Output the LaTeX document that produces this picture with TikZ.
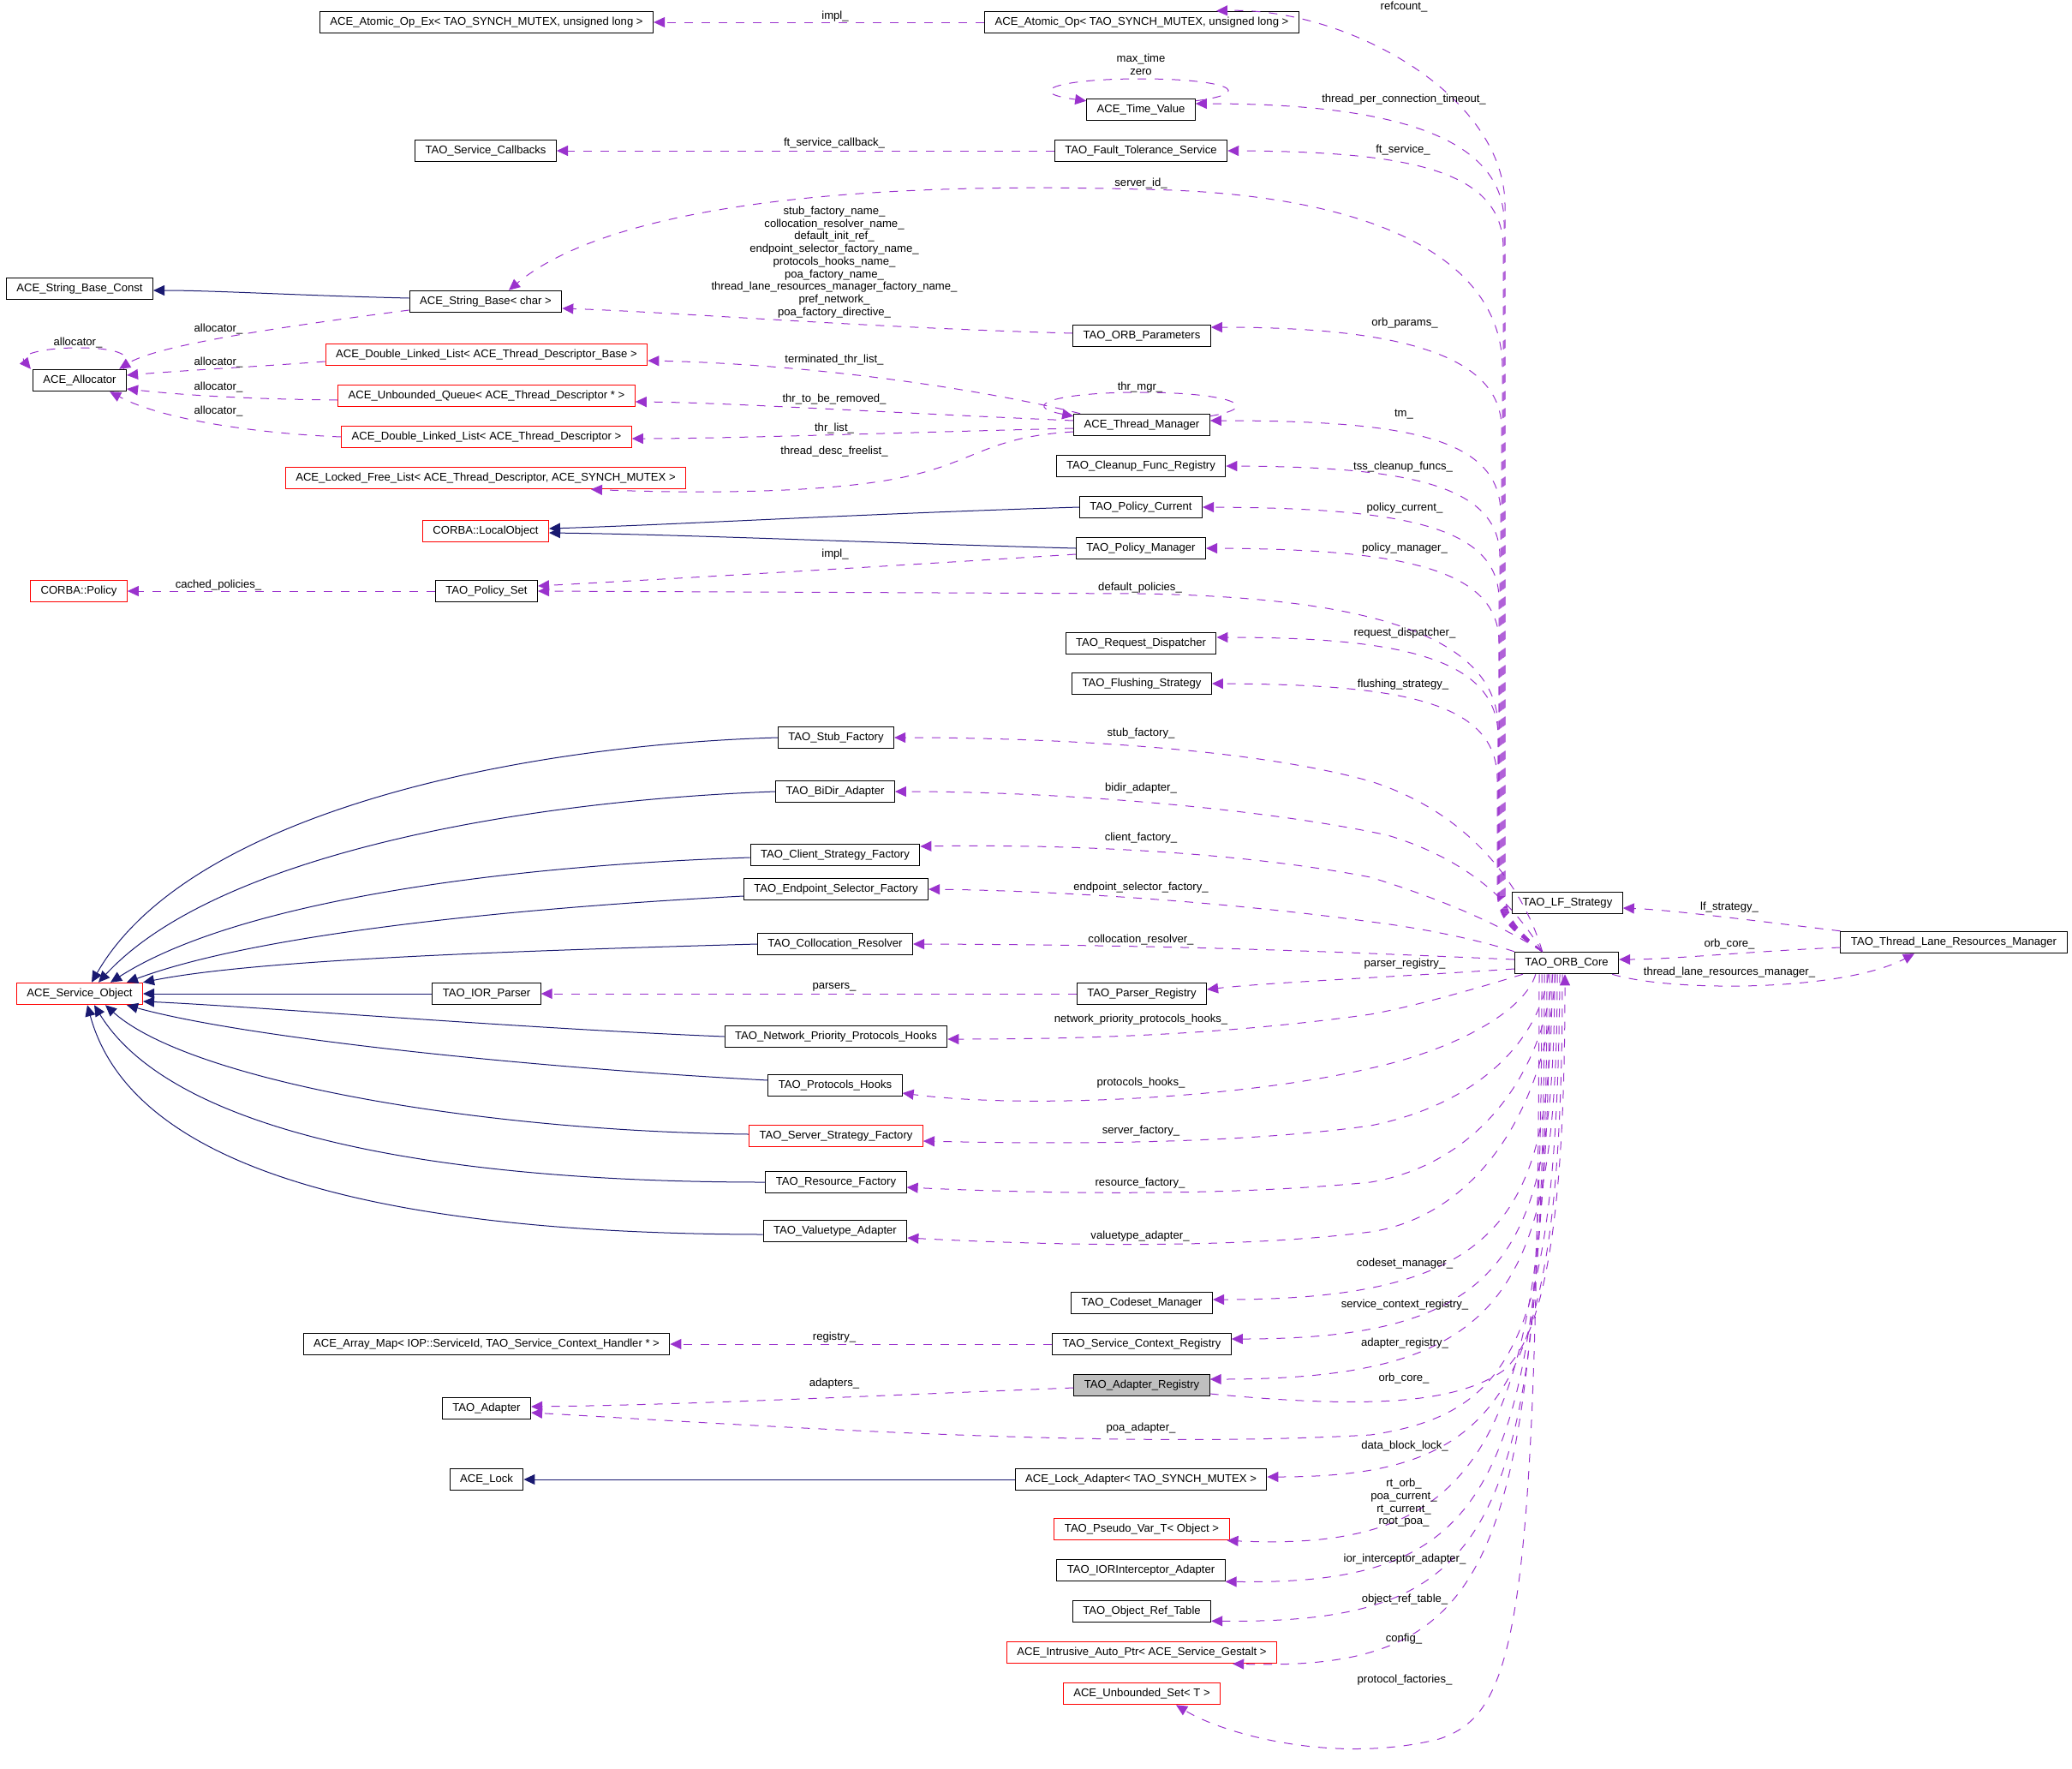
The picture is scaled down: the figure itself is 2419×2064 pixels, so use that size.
\documentclass[tikz,border=0pt]{standalone}
\usepackage{fontspec}
\usepackage{tikz}
\usetikzlibrary{arrows.meta}
\newfontfamily\doxfont{Liberation Sans}
\definecolor{memberpurple}{HTML}{9A32CD}
\definecolor{basenavy}{HTML}{191970}
\definecolor{focusgray}{HTML}{BFBFBF}

\begin{document}
\begin{tikzpicture}[x=1pt,y=-1pt,
  cls/.style={draw=black,line width=1pt,fill=white,minimum height=25.5pt,inner xsep=12pt,inner ysep=1pt,font=\doxfont\fontsize{13.1}{14.7}\selectfont},
  redcls/.style={cls,draw=red},
  lbl/.style={inner sep=0pt,align=center,font=\doxfont\fontsize{13.1}{14.7}\selectfont},
  member/.style={draw=memberpurple,line width=1pt,dash pattern=on 10pt off 10pt,-{Triangle[length=13pt,width=12pt]}},
  inherit/.style={draw=basenavy,line width=1pt,-{Triangle[length=13pt,width=12pt]}}]
\useasboundingbox (0,0) rectangle (2419,2064);

% classes, far left
\node[cls] (strconst) at (93,337) {ACE\_String\_Base\_Const};
\node[cls] (allocator) at (93,444) {ACE\_Allocator};
\node[redcls] (corbapolicy) at (92,690) {CORBA::Policy};
\node[redcls] (serviceobj) at (93,1160) {ACE\_Service\_Object};

% classes, left column
\node[cls] (atomicex) at (568,26) {ACE\_Atomic\_Op\_Ex< TAO\_SYNCH\_MUTEX, unsigned long >};
\node[cls] (callbacks) at (567,176) {TAO\_Service\_Callbacks};
\node[cls] (strbase) at (567,352) {ACE\_String\_Base< char >};
\node[redcls] (dllbase) at (568,414) {ACE\_Double\_Linked\_List< ACE\_Thread\_Descriptor\_Base >};
\node[redcls] (uqueue) at (568,462) {ACE\_Unbounded\_Queue< ACE\_Thread\_Descriptor * >};
\node[redcls] (dlldesc) at (568,510) {ACE\_Double\_Linked\_List< ACE\_Thread\_Descriptor >};
\node[redcls] (freelist) at (567,558) {ACE\_Locked\_Free\_List< ACE\_Thread\_Descriptor, ACE\_SYNCH\_MUTEX >};
\node[redcls] (localobj) at (567,620) {CORBA::LocalObject};
\node[cls] (policyset) at (568,690) {TAO\_Policy\_Set};
\node[cls] (iorparser) at (568,1160) {TAO\_IOR\_Parser};
\node[cls] (arraymap) at (568,1569) {ACE\_Array\_Map< IOP::ServiceId, TAO\_Service\_Context\_Handler * >};
\node[cls] (adapter) at (568,1644) {TAO\_Adapter};
\node[cls] (acelock) at (568,1727) {ACE\_Lock};

% classes, middle column
\node[cls] (stubf) at (976,861) {TAO\_Stub\_Factory};
\node[cls] (bidir) at (975,924) {TAO\_BiDir\_Adapter};
\node[cls] (clientf) at (975,998) {TAO\_Client\_Strategy\_Factory};
\node[cls] (endpointf) at (976,1038) {TAO\_Endpoint\_Selector\_Factory};
\node[cls] (colloc) at (975,1102) {TAO\_Collocation\_Resolver};
\node[cls] (npphooks) at (976,1210) {TAO\_Network\_Priority\_Protocols\_Hooks};
\node[cls] (protohooks) at (975,1267) {TAO\_Protocols\_Hooks};
\node[redcls] (serverf) at (976,1326) {TAO\_Server\_Strategy\_Factory};
\node[cls] (resourcef) at (976,1380) {TAO\_Resource\_Factory};
\node[cls] (valuetype) at (975,1437) {TAO\_Valuetype\_Adapter};

% classes, right column
\node[cls] (atomicop) at (1333,26) {ACE\_Atomic\_Op< TAO\_SYNCH\_MUTEX, unsigned long >};
\node[cls] (timevalue) at (1332,128) {ACE\_Time\_Value};
\node[cls] (ftservice) at (1332,176) {TAO\_Fault\_Tolerance\_Service};
\node[cls] (orbparams) at (1333,392) {TAO\_ORB\_Parameters};
\node[cls] (threadmgr) at (1333,496) {ACE\_Thread\_Manager};
\node[cls] (cleanup) at (1332,544) {TAO\_Cleanup\_Func\_Registry};
\node[cls] (policycur) at (1332,592) {TAO\_Policy\_Current};
\node[cls] (policymgr) at (1332,640) {TAO\_Policy\_Manager};
\node[cls] (reqdisp) at (1332,751) {TAO\_Request\_Dispatcher};
\node[cls] (flushing) at (1333,798) {TAO\_Flushing\_Strategy};
\node[cls] (parserreg) at (1333,1160) {TAO\_Parser\_Registry};
\node[cls] (codeset) at (1333,1521) {TAO\_Codeset\_Manager};
\node[cls] (svcctx) at (1333,1569) {TAO\_Service\_Context\_Registry};
\node[cls,fill=focusgray] (adapterreg) at (1333,1617) {TAO\_Adapter\_Registry};
\node[cls] (lockadapter) at (1332,1727) {ACE\_Lock\_Adapter< TAO\_SYNCH\_MUTEX >};
\node[redcls] (pseudovar) at (1333,1785) {TAO\_Pseudo\_Var\_T< Object >};
\node[cls] (iorinterceptor) at (1332,1833) {TAO\_IORInterceptor\_Adapter};
\node[cls] (objreftable) at (1333,1881) {TAO\_Object\_Ref\_Table};
\node[redcls] (autoptr) at (1333,1929) {ACE\_Intrusive\_Auto\_Ptr< ACE\_Service\_Gestalt >};
\node[redcls] (unboundedset) at (1333,1977) {ACE\_Unbounded\_Set< T >};

% classes, far right
\node[cls] (lfstrategy) at (1830,1054) {TAO\_LF\_Strategy};
\node[cls] (core) at (1829,1124) {TAO\_ORB\_Core};
\node[cls] (tlrm) at (2281,1100) {TAO\_Thread\_Lane\_Resources\_Manager};

% inheritance
\draw[inherit] ([yshift=4pt]strbase.west) .. controls (350,345) and (250,339) .. ([yshift=-2pt]strconst.east);
\draw[inherit] (policycur.west) .. controls (1000,600) and (800,612) .. ([yshift=3pt]localobj.east);
\draw[inherit] (policymgr.west) .. controls (1000,633) and (800,624) .. ([yshift=-2pt]localobj.east);
\draw[inherit] (stubf.west) .. controls (600,870) and (220,950) .. ([xshift=14pt]serviceobj.north);
\draw[inherit] (bidir.west) .. controls (600,935) and (250,1000) .. ([xshift=22pt]serviceobj.north);
\draw[inherit] ([yshift=-3pt]clientf.west) .. controls (600,1010) and (280,1050) .. ([xshift=36pt]serviceobj.north);
\draw[inherit] ([yshift=-8pt]endpointf.west) .. controls (600,1060) and (300,1090) .. ([xshift=55pt]serviceobj.north);
\draw[inherit] (colloc.west) .. controls (600,1110) and (300,1120) .. (serviceobj.north east);
\draw[inherit] (iorparser.west) -- (serviceobj.east);
\draw[inherit] (npphooks.west) .. controls (600,1200) and (300,1175) .. ([yshift=-9pt]serviceobj.east);
\draw[inherit] ([yshift=6pt]protohooks.west) .. controls (600,1245) and (280,1210) .. ([xshift=55pt]serviceobj.south);
\draw[inherit] ([yshift=2pt]serverf.west) .. controls (550,1320) and (220,1260) .. ([xshift=30pt]serviceobj.south);
\draw[inherit] (resourcef.west) .. controls (500,1380) and (200,1320) .. ([xshift=17pt]serviceobj.south);
\draw[inherit] ([yshift=-4pt]valuetype.west) .. controls (400,1440) and (150,1350) .. ([xshift=9pt]serviceobj.south);
\draw[inherit] (lockadapter.west) -- (acelock.east);

% members, left part
\draw[member] (atomicop.west) -- (atomicex.east);
\draw[member] (ftservice.west) -- (callbacks.east);
\draw[member] ([yshift=-3pt]timevalue.north east) .. controls (1470,108) and (1430,92) .. (1332,92) .. controls (1230,92) and (1195,108) .. ([yshift=-3pt]timevalue.north west);
\draw[member] ([yshift=3pt]orbparams.west) .. controls (1000,382) and (800,365) .. ([yshift=-8pt]strbase.east);
\draw[member] ([yshift=-10pt]strbase.west) .. controls (300,385) and (180,405) .. ([xshift=-9pt]allocator.north east);
\draw[member] ([xshift=-4pt]allocator.north east) .. controls (160,412) and (130,406) .. (91,406) .. controls (50,406) and (22,414) .. ([xshift=-2pt]allocator.north west);
\draw[member] ([yshift=-8pt]dllbase.west) .. controls (300,428) and (220,432) .. ([yshift=6pt]allocator.east);
\draw[member] ([yshift=-5pt]uqueue.west) .. controls (300,466) and (220,462) .. ([yshift=-10pt]allocator.east);
\draw[member] (dlldesc.west) .. controls (300,506) and (190,490) .. ([xshift=-20pt]allocator.south east);
\draw[member] ([xshift=8pt]threadmgr.north west) .. controls (1150,455) and (950,425) .. ([yshift=-7pt]dllbase.east);
\draw[member] ([yshift=5pt]threadmgr.west) .. controls (1000,480) and (850,470) .. ([yshift=-7pt]uqueue.east);
\draw[member] ([yshift=-4pt]threadmgr.west) .. controls (1050,505) and (850,512) .. ([yshift=-2pt]dlldesc.east);
\draw[member] ([yshift=-8pt]threadmgr.west) .. controls (1150,510) and (1140,540) .. (1050,558) .. controls (950,578) and (780,575) .. ([xshift=123pt]freelist.south);
\draw[member] ([yshift=-3pt]threadmgr.north east) .. controls (1480,474) and (1430,458) .. (1331,458) .. controls (1230,458) and (1190,474) .. ([yshift=-3pt]threadmgr.north west);
\draw[member] ([yshift=-7pt]policymgr.west) .. controls (1050,660) and (850,672) .. ([yshift=6pt]policyset.east);
\draw[member] (policyset.west) -- (corbapolicy.east);
\draw[member] (parserreg.west) -- (iorparser.east);
\draw[member] (svcctx.west) -- (arraymap.east);
\draw[member] ([yshift=-3pt]adapterreg.west) .. controls (1000,1630) and (800,1640) .. ([yshift=2pt]adapter.east);

% members of the ORB core, upwards
\draw[member] (core.155) .. controls (1778,1090) and (1757,1075) .. (1757,1040) -- (1757,240) .. controls (1757,110) and (1570,8) .. ([xshift=87pt]atomicop.north);
\draw[member] (core.155) .. controls (1777,1090) and (1756,1075) .. (1756,1040) -- (1756,260) .. controls (1756,150) and (1600,121) .. ([yshift=7pt]timevalue.east);
\draw[member] (core.155) .. controls (1776,1090) and (1755,1075) .. (1755,1040) -- (1755,290) .. controls (1755,200) and (1650,177) .. (ftservice.east);
\draw[member] (core.155) .. controls (1775,1090) and (1754,1075) .. (1754,1040) -- (1754,430) .. controls (1754,300) and (1600,225) .. (1332,221) .. controls (950,210) and (700,250) .. ([xshift=27pt]strbase.north);
\draw[member] (core.155) .. controls (1774,1090) and (1753,1075) .. (1753,1040) -- (1753,500) .. controls (1753,410) and (1620,382) .. ([yshift=10pt]orbparams.east);
\draw[member] (core.155) .. controls (1773,1090) and (1752,1075) .. (1752,1040) -- (1752,600) .. controls (1752,510) and (1640,491) .. ([yshift=5pt]threadmgr.east);
\draw[member] (core.155) .. controls (1772,1090) and (1751,1075) .. (1751,1040) -- (1751,650) .. controls (1751,565) and (1640,545) .. (cleanup.east);
\draw[member] (core.155) .. controls (1771,1090) and (1750,1075) .. (1750,1040) -- (1750,700) .. controls (1750,615) and (1640,593) .. (policycur.east);
\draw[member] (core.155) .. controls (1771,1090) and (1750,1075) .. (1750,1040) -- (1750,750) .. controls (1750,665) and (1640,641) .. (policymgr.east);
\draw[member] (core.155) .. controls (1770,1090) and (1749,1075) .. (1749,1040) -- (1749,850) .. controls (1749,730) and (1560,697) .. (1332,693) -- (policyset.east);
\draw[member] (core.155) .. controls (1770,1090) and (1749,1075) .. (1749,1040) -- (1749,860) .. controls (1749,770) and (1640,744) .. ([yshift=7pt]reqdisp.east);
\draw[member] (core.155) .. controls (1769,1090) and (1748,1075) .. (1748,1040) -- (1748,910) .. controls (1748,820) and (1640,799) .. (flushing.east);

% members of the ORB core, to the left
\draw[member] (core.155) .. controls (1780,1040) and (1720,950) .. (1600,912) .. controls (1450,870) and (1200,861) .. (stubf.east);
\draw[member] (core.155) .. controls (1770,1060) and (1720,1005) .. (1620,975) .. controls (1480,945) and (1250,924) .. (bidir.east);
\draw[member] (core.155) .. controls (1760,1085) and (1700,1055) .. (1600,1024) .. controls (1450,995) and (1250,985) .. ([yshift=10pt]clientf.east);
\draw[member] (core.north west) .. controls (1720,1095) and (1650,1082) .. (1600,1076) .. controls (1450,1055) and (1250,1040) .. (endpointf.east);
\draw[member] ([yshift=4pt]core.west) .. controls (1600,1113) and (1400,1103) .. (colloc.east);
\draw[member] ([yshift=-7pt]core.west) .. controls (1600,1142) and (1480,1147) .. ([yshift=5pt]parserreg.east);
\draw[member] ([xshift=10pt]core.south west) .. controls (1720,1155) and (1650,1175) .. (1600,1184) .. controls (1450,1205) and (1300,1213) .. ([yshift=-3pt]npphooks.east);
\draw[member] ([xshift=25pt]core.south west) .. controls (1780,1180) and (1700,1225) .. (1600,1247) .. controls (1450,1282) and (1200,1295) .. ([yshift=-9pt]protohooks.east);
\draw[member] ([xshift=40pt]core.south west) .. controls (1795,1220) and (1720,1290) .. (1600,1314) .. controls (1450,1335) and (1250,1336) .. ([yshift=-6pt]serverf.east);
\draw[member] ([xshift=45pt]core.south west) .. controls (1800,1260) and (1720,1360) .. (1600,1380) .. controls (1450,1395) and (1250,1395) .. ([yshift=-6pt]resourcef.east);
\draw[member] ([xshift=48pt]core.south west) .. controls (1805,1300) and (1720,1420) .. (1600,1438) .. controls (1450,1457) and (1250,1455) .. ([yshift=-8pt]valuetype.east);

% members of the ORB core, downwards
\draw[member] ([xshift=-17pt]core.south) .. controls (1812,1417) and (1760,1517) .. ([yshift=4pt]codeset.east);
\draw[member] ([xshift=-14pt]core.south) .. controls (1815,1463) and (1760,1563) .. ([yshift=6pt]svcctx.east);
\draw[member] ([xshift=-11pt]core.south) .. controls (1818,1510) and (1760,1610) .. ([yshift=7pt]adapterreg.east);
\draw[member] ([yshift=-10pt]adapterreg.east) .. controls (1600,1645) and (1700,1638) .. (1755,1600) .. controls (1815,1550) and (1827,1350) .. ([xshift=-2pt]core.south);
\draw[member] ([xshift=-8pt]core.south) .. controls (1818,1560) and (1770,1650) .. (1600,1675) .. controls (1300,1692) and (900,1665) .. ([yshift=-5pt]adapter.east);
\draw[member] ([xshift=-5pt]core.south) .. controls (1824,1624) and (1760,1724) .. ([yshift=3pt]lockadapter.east);
\draw[member] ([xshift=-20pt]core.south) .. controls (1809,1690) and (1730,1812) .. ([xshift=-3pt]pseudovar.south east);
\draw[member] ([xshift=-23pt]core.south) .. controls (1806,1745) and (1740,1850) .. (iorinterceptor.south east);
\draw[member] ([xshift=-26pt]core.south) .. controls (1803,1792) and (1750,1895) .. ([yshift=2pt]objreftable.south east);
\draw[member] ([xshift=-29pt]core.south) .. controls (1800,1840) and (1740,1950) .. ([xshift=-52pt]autoptr.south east);
\draw[member] ([xshift=-32pt]core.south) .. controls (1795,1900) and (1770,2000) .. (1680,2030) .. controls (1560,2060) and (1430,2025) .. ([xshift=40pt]unboundedset.south);

% thread lane resources manager
\draw[member] (tlrm.north west) .. controls (2050,1075) and (1950,1062) .. ([yshift=-6pt]lfstrategy.east);
\draw[member] ([yshift=-6pt]tlrm.west) .. controls (2050,1110) and (1950,1120) .. ([yshift=4pt]core.east);
\draw[member] ([xshift=-8pt]core.south east) .. controls (1950,1158) and (2150,1158) .. ([xshift=-46pt]tlrm.south);

% labels
\node[lbl] at (975,19) {impl\_};
\node[lbl] at (1639,8) {refcount\_};
\node[lbl] at (1332,75.5) {max\_time\\zero};
\node[lbl] at (1639,116) {thread\_per\_connection\_timeout\_};
\node[lbl] at (974,167) {ft\_service\_callback\_};
\node[lbl] at (1638,175) {ft\_service\_};
\node[lbl] at (1332,214) {server\_id\_};
\node[lbl] at (974,306) {stub\_factory\_name\_\\collocation\_resolver\_name\_\\default\_init\_ref\_\\endpoint\_selector\_factory\_name\_\\protocols\_hooks\_name\_\\poa\_factory\_name\_\\thread\_lane\_resources\_manager\_factory\_name\_\\pref\_network\_\\poa\_factory\_directive\_};
\node[lbl] at (1640,377) {orb\_params\_};
\node[lbl] at (91,400) {allocator\_};
\node[lbl] at (255,384) {allocator\_};
\node[lbl] at (255,423) {allocator\_};
\node[lbl] at (255,452) {allocator\_};
\node[lbl] at (255,480) {allocator\_};
\node[lbl] at (974,420) {terminated\_thr\_list\_};
\node[lbl] at (1331,452) {thr\_mgr\_};
\node[lbl] at (974,466) {thr\_to\_be\_removed\_};
\node[lbl] at (1639,484) {tm\_};
\node[lbl] at (974,500) {thr\_list\_};
\node[lbl] at (974,527) {thread\_desc\_freelist\_};
\node[lbl] at (1638,545) {tss\_cleanup\_funcs\_};
\node[lbl] at (1640,593) {policy\_current\_};
\node[lbl] at (1640,640) {policy\_manager\_};
\node[lbl] at (975,647) {impl\_};
\node[lbl] at (255,683) {cached\_policies\_};
\node[lbl] at (1331,686) {default\_policies\_};
\node[lbl] at (1640,739) {request\_dispatcher\_};
\node[lbl] at (1638,799) {flushing\_strategy\_};
\node[lbl] at (1332,856) {stub\_factory\_};
\node[lbl] at (1332,920) {bidir\_adapter\_};
\node[lbl] at (1332,978) {client\_factory\_};
\node[lbl] at (1332,1036) {endpoint\_selector\_factory\_};
\node[lbl] at (1332,1097) {collocation\_resolver\_};
\node[lbl] at (2019,1059) {lf\_strategy\_};
\node[lbl] at (2019,1102) {orb\_core\_};
\node[lbl] at (1640,1125) {parser\_registry\_};
\node[lbl] at (2019,1135) {thread\_lane\_resources\_manager\_};
\node[lbl] at (974,1152) {parsers\_};
\node[lbl] at (1332,1190) {network\_priority\_protocols\_hooks\_};
\node[lbl] at (1332,1264) {protocols\_hooks\_};
\node[lbl] at (1332,1320) {server\_factory\_};
\node[lbl] at (1331,1381) {resource\_factory\_};
\node[lbl] at (1331,1443) {valuetype\_adapter\_};
\node[lbl] at (1640,1475) {codeset\_manager\_};
\node[lbl] at (1640,1523) {service\_context\_registry\_};
\node[lbl] at (974,1561) {registry\_};
\node[lbl] at (1640,1568) {adapter\_registry\_};
\node[lbl] at (1639,1609) {orb\_core\_};
\node[lbl] at (974,1615) {adapters\_};
\node[lbl] at (1332,1667) {poa\_adapter\_};
\node[lbl] at (1640,1688) {data\_block\_lock\_};
\node[lbl] at (1639,1754.5) {rt\_orb\_\\poa\_current\_\\rt\_current\_\\root\_poa\_};
\node[lbl] at (1640,1820) {ior\_interceptor\_adapter\_};
\node[lbl] at (1640,1867) {object\_ref\_table\_};
\node[lbl] at (1639,1913) {config\_};
\node[lbl] at (1640,1961) {protocol\_factories\_};
\end{tikzpicture}
\end{document}
